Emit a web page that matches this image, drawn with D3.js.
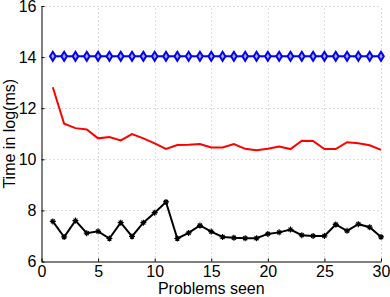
<!DOCTYPE html>
<html>
<head>
<meta charset="utf-8">
<script src="https://cdn.jsdelivr.net/npm/d3@7"></script>
<style>
  body { margin: 0; background: #fff; }
  text { font-family: "Liberation Sans", Arial, sans-serif; fill: #000; }
</style>
</head>
<body>
<div id="chart"></div>
<script>
// Problems seen (x)
const problems = d3.range(1, 31);

// Time in log(ms), one array per series
const blueSeries = [14.03, 14.03, 14.03, 14.03, 14.03, 14.03, 14.03, 14.03, 14.03, 14.03,
                    14.03, 14.03, 14.03, 14.03, 14.03, 14.03, 14.03, 14.03, 14.03, 14.03,
                    14.03, 14.03, 14.03, 14.03, 14.03, 14.03, 14.03, 14.03, 14.03, 14.03];
const redSeries = [12.82, 11.39, 11.22, 11.17, 10.82, 10.87, 10.74, 10.99, 10.82, 10.62,
                   10.41, 10.56, 10.57, 10.60, 10.46, 10.46, 10.60, 10.41, 10.35, 10.41,
                   10.50, 10.40, 10.73, 10.72, 10.40, 10.40, 10.67, 10.63, 10.55, 10.37];
const blackSeries = [7.57, 6.96, 7.60, 7.11, 7.18, 6.90, 7.52, 6.98, 7.52, 7.91,
                     8.33, 6.90, 7.12, 7.41, 7.17, 6.96, 6.93, 6.91, 6.91, 7.08,
                     7.14, 7.25, 7.03, 7.00, 7.00, 7.45, 7.20, 7.46, 7.34, 6.96];

const xTicks = [0, 5, 10, 15, 20, 25, 30];
const yTicks = [6, 8, 10, 12, 14, 16];

const W = 390, H = 297;
const margin = {left: 41.5, right: 9, top: 6, bottom: 35.5};

const svg = d3.select("#chart").append("svg")
    .attr("width", W)
    .attr("height", H);

const x = d3.scaleLinear().domain([0, 30]).range([margin.left, W - margin.right]);
const y = d3.scaleLinear().domain([6, 16]).range([H - margin.bottom, margin.top]);

// dotted grid
const grid = svg.append("g").attr("stroke", "#bbb").attr("stroke-width", 1)
    .attr("stroke-dasharray", "1,3");
grid.selectAll("line.v").data(xTicks.slice(1)).enter().append("line")
    .attr("x1", d => Math.round(x(d)) + 0.5).attr("x2", d => Math.round(x(d)) + 0.5)
    .attr("y1", y(6)).attr("y2", y(16));
grid.selectAll("line.h").data(yTicks.slice(1)).enter().append("line")
    .attr("x1", x(0)).attr("x2", x(30))
    .attr("y1", d => Math.round(y(d)) + 0.5).attr("y2", d => Math.round(y(d)) + 0.5);

// axes (ticks inward)
const xAxis = svg.append("g")
    .attr("transform", "translate(0," + y(6) + ")")
    .call(d3.axisBottom(x).tickValues(xTicks).tickSizeInner(-3).tickSizeOuter(0).tickPadding(4));
const yAxis = svg.append("g")
    .attr("transform", "translate(" + x(0) + ",0)")
    .call(d3.axisLeft(y).tickValues(yTicks).tickSizeInner(-3).tickSizeOuter(0).tickPadding(5));

[xAxis, yAxis].forEach(function (g) {
    g.selectAll("path, line").attr("stroke", "#000");
    g.selectAll("text").style("font-size", "16px").attr("fill", "#000");
});

// lines
const line = d3.line()
    .x((d, i) => x(problems[i]))
    .y(d => y(d));

svg.append("path").datum(redSeries)
    .attr("fill", "none").attr("stroke", "#ff0000").attr("stroke-width", 2)
    .attr("d", line);

svg.append("path").datum(blackSeries)
    .attr("fill", "none").attr("stroke", "#000").attr("stroke-width", 2)
    .attr("d", line);

svg.append("path").datum(blueSeries)
    .attr("fill", "none").attr("stroke", "#0000ff").attr("stroke-width", 2)
    .attr("d", line);

// blue diamond markers
svg.append("g").selectAll("path").data(blueSeries).enter().append("path")
    .attr("transform", (d, i) => "translate(" + x(problems[i]) + "," + y(d) + ")")
    .attr("d", "M0,-4.5L2.8,0L0,4.5L-2.8,0Z")
    .attr("fill", "#aab").attr("stroke", "#0000ff").attr("stroke-width", 2);

// black star markers
svg.append("g").selectAll("path").data(blackSeries).enter().append("path")
    .attr("transform", (d, i) => "translate(" + x(problems[i]) + "," + y(d) + ")")
    .attr("d", "M-3,0L3,0M0,-3L0,3M-2,-2L2,2M-2,2L2,-2")
    .attr("fill", "none").attr("stroke", "#000").attr("stroke-width", 1.2);

// axis titles
svg.append("text")
    .attr("x", (x(0) + x(30)) / 2).attr("y", 294)
    .attr("text-anchor", "middle")
    .style("font-size", "16px")
    .text("Problems seen");

svg.append("text")
    .attr("transform", "translate(15," + (y(6) + y(16)) / 2 + ") rotate(-90)")
    .attr("text-anchor", "middle")
    .style("font-size", "16px")
    .text("Time in log(ms)");
</script>
</body>
</html>
